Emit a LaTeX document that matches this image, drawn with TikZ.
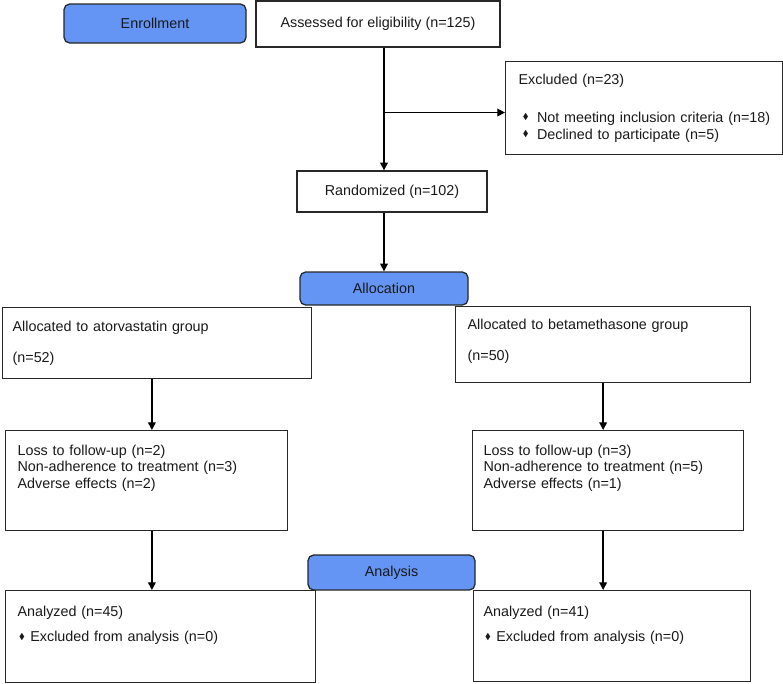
\documentclass[tikz,border=0pt]{standalone}
\usepackage{amssymb}
\usepackage{fontspec}
\setmainfont{Liberation Sans}
\usetikzlibrary{arrows.meta,positioning,calc}
\definecolor{stagecolor}{RGB}{100,149,245}
\definecolor{linecolor}{RGB}{40,40,40}
\newcommand{\itemmark}{\raisebox{0.3ex}{\scalebox{0.6}{$\blacklozenge$}}}

\begin{document}
\begin{tikzpicture}[
    font=\fontsize{10.2}{11.6}\selectfont,
    box/.style={rectangle, draw=linecolor, line width=0.9pt, align=center, text=black!90},
    stage/.style={box, rounded corners=4pt, fill=stagecolor, draw=black!85},
    panel/.style={box, anchor=north west, align=left, inner xsep=0.3cm, inner ysep=0pt},
    arrow/.style={-{Triangle[length=5.5pt,width=5.5pt]}, line width=1pt}
]
\useasboundingbox (0,0) rectangle (19.575,-17.075);

% ============ Enrollment ============
\node[box, minimum width=6.1cm, minimum height=1.15cm] (assess) at (9.45,-0.6) {Assessed for eligibility (n=125)};
\node[panel, text width=6.275cm, inner xsep=0.325cm, text height=0.575cm, text depth=1.75cm] (excl) at (12.625,-1.525)
    {Excluded (n=23)\\[15pt]
     \mbox{\hspace*{3pt}\itemmark\hspace{6pt}Not meeting inclusion criteria (n=18)}\\[0.5pt]
     \mbox{\hspace*{3pt}\itemmark\hspace{6pt}Declined to participate (n=5)}};
\node[box, minimum width=4.75cm, minimum height=1.025cm] (rand) at (9.8,-4.7875) {Randomized (n=102)};

% ============ Allocation ============
\node[panel, text width=7.225cm, inner xsep=0.25cm, text height=0.6cm, text depth=1.175cm] (atorv) at (0.05,-7.675)
    {Allocated to atorvastatin group\\[10pt](n=52)};
\node[panel, text width=6.775cm, text height=0.575cm, text depth=1.325cm] (betam) at (11.375,-7.65)
    {Allocated to betamethasone group\\[10pt](n=50)};

% ============ Follow-up ============
\node[panel, text width=6.45cm, text height=0.625cm, text depth=1.875cm] (lossL) at (0.125,-10.75)
    {Loss to follow-up (n=2)\\Non-adherence to treatment (n=3)\\Adverse effects (n=2)};
\node[panel, text width=6.225cm, inner xsep=0.275cm, text height=0.625cm, text depth=1.875cm] (lossR) at (11.8,-10.75)
    {Loss to follow-up (n=3)\\Non-adherence to treatment (n=5)\\Adverse effects (n=1)};

% ============ Analysis ============
\node[panel, text width=7.15cm, text height=0.65cm, text depth=1.65cm] (anaL) at (0.125,-14.75)
    {Analyzed (n=45)\\[6pt]\mbox{\hspace*{1pt}\itemmark\hspace{4pt}Excluded from analysis (n=0)}};
\node[panel, text width=6.425cm, inner xsep=0.25cm, text height=0.65cm, text depth=1.625cm] (anaR) at (11.825,-14.75)
    {Analyzed (n=41)\\[6pt]\mbox{\hspace*{1pt}\itemmark\hspace{4pt}Excluded from analysis (n=0)}};

% stage labels on top
\node[stage, minimum width=4.55cm, minimum height=0.975cm] (enrol) at (3.875,-0.5875) {Enrollment};
\node[stage, minimum width=4.2cm, minimum height=0.825cm] (alloc) at (9.6,-7.2125) {Allocation};
\node[stage, minimum width=4.175cm, minimum height=0.875cm] (anal) at (9.7875,-14.3125) {Analysis};

% connectors
\coordinate (exclin) at ($(excl.west)+(0,-0.11)$);
\coordinate (lmid) at ($(atorv.south)!0.5!(lossL.north)$);
\draw[arrow] (assess.south -| alloc.north) -- (rand.north -| alloc.north);
\draw[arrow] (exclin -| alloc.north) -- (exclin);
\draw[arrow] (rand.south -| alloc.north) -- (alloc.north);
\draw[arrow] (lmid |- atorv.south) -- (lmid |- lossL.north);
\draw[arrow] (betam.south) -- (betam.south |- lossR.north);
\draw[arrow] (lmid |- lossL.south) -- (lmid |- anaL.north);
\draw[arrow] (lossR.south -| betam.south) -- (betam.south |- anaR.north);

\end{tikzpicture}
\end{document}
